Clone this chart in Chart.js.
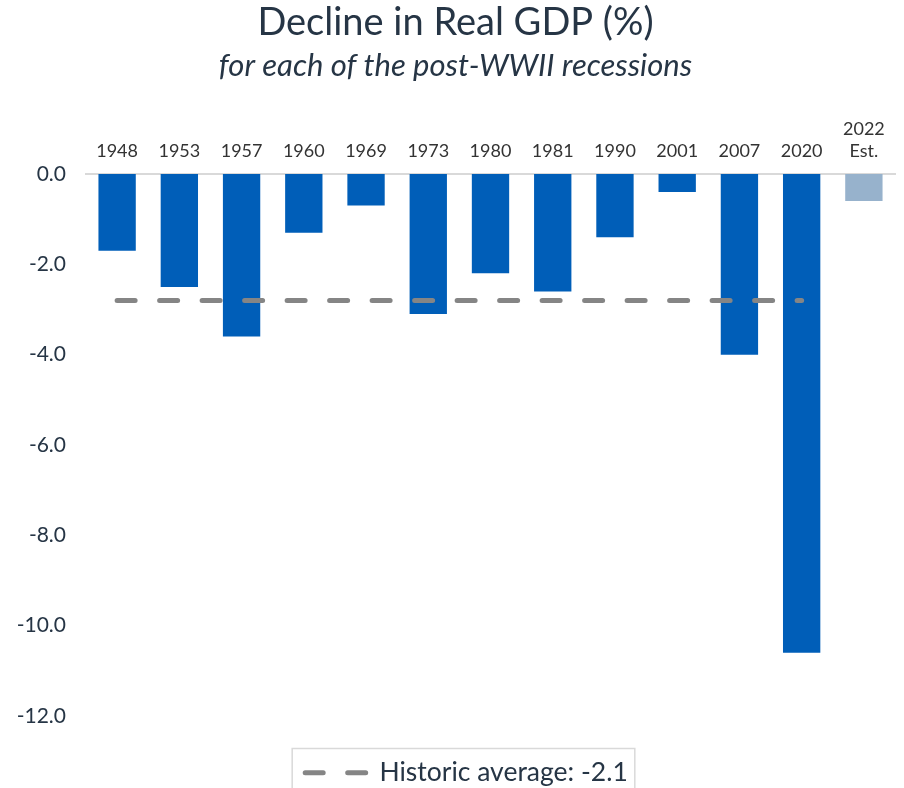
<!DOCTYPE html>
<html>
<head>
<meta charset="utf-8">
<script src="https://cdn.jsdelivr.net/npm/chart.js@4.4.1/dist/chart.umd.min.js"></script>
<style>
  html, body { margin: 0; padding: 0; background: #fff; overflow: hidden; }
  #wrap { position: relative; width: 904px; height: 796px; }
</style>
</head>
<body>
<div id="wrap"><canvas id="gdpChart"></canvas></div>
<script>
// --- Data ---
const recessions = ['1948', '1953', '1957', '1960', '1969', '1973', '1980', '1981', '1990', '2001', '2007', '2020', ['2022', 'Est.']];
const gdpDecline = [-1.7, -2.5, -3.6, -1.3, -0.7, -3.1, -2.2, -2.6, -1.4, -0.4, -4.0, -10.6, -0.6];
const historicAverage = [-2.8, -2.8, -2.8, -2.8, -2.8, -2.8, -2.8, -2.8, -2.8, -2.8, -2.8, -2.8, null];
const averageLabel = 'Historic average: -2.1';
const barColors = ['#005EB8', '#005EB8', '#005EB8', '#005EB8', '#005EB8', '#005EB8', '#005EB8', '#005EB8', '#005EB8', '#005EB8', '#005EB8', '#005EB8', '#97B2CC'];

const textColor = '#263545';
const avgDash = [18, 24.5];

// --- Legend border (and nudge legend a bit to the right) ---
const legendBox = {
  id: 'legendBox',
  afterLayout(chart) {
    const lg = chart.legend;
    if (!lg) return;
    lg.left += 11;
    lg.right += 11;
  },
  afterDraw(chart) {
    const lg = chart.legend;
    if (!lg || !lg.legendHitBoxes.length) return;
    const hb = lg.legendHitBoxes[0];
    const ctx = chart.ctx;
    ctx.save();
    ctx.strokeStyle = '#d9d9d9';
    ctx.lineWidth = 1.5;
    ctx.strokeRect(hb.left - 13, lg.top + 1, hb.width + 20, 80);
    ctx.restore();
  }
};

// keep the dashed look of the average line in the legend sample
function legendLabels(chart) {
  return Chart.defaults.plugins.legend.labels.generateLabels(chart).map(item => {
    const ds = chart.data.datasets[item.datasetIndex];
    item.lineDash = ds.borderDash || [];
    item.lineWidth = ds.borderWidth;
    item.lineCap = ds.borderCapStyle;
    item.strokeStyle = ds.borderColor;
    return item;
  });
}

// --- Chart ---
new Chart(document.getElementById('gdpChart'), {
  data: {
    labels: recessions,
    datasets: [
      {
        type: 'line',
        label: averageLabel,
        data: historicAverage,
        borderColor: '#858585',
        backgroundColor: '#858585',
        borderWidth: 5,
        borderDash: avgDash,
        borderCapStyle: 'round',
        pointRadius: 0,
        order: 0
      },
      {
        type: 'bar',
        label: 'Decline in Real GDP',
        data: gdpDecline,
        backgroundColor: barColors,
        categoryPercentage: 0.6,
        barPercentage: 1,
        order: 1
      }
    ]
  },
  options: {
    responsive: true,
    maintainAspectRatio: false,
    animation: false,
    layout: { padding: { left: 16, right: 9, top: 0, bottom: 0 } },
    plugins: {
      title: {
        display: true,
        text: 'Decline in Real GDP (%)',
        color: textColor,
        font: { family: 'Lato', size: 38, weight: 'normal' },
        padding: { top: 0, bottom: 0 }
      },
      subtitle: {
        display: true,
        text: 'for each of the post-WWII recessions',
        color: textColor,
        font: { family: 'Lato', size: 31, style: 'italic' },
        padding: { top: 2, bottom: 22 }
      },
      legend: {
        position: 'bottom',
        labels: {
          filter: item => item.datasetIndex === 0,
          generateLabels: legendLabels,
          usePointStyle: true,
          pointStyle: 'line',
          pointStyleWidth: 61,
          boxWidth: 61,
          color: textColor,
          font: { family: 'Lato', size: 26.5 },
          padding: 12
        }
      },
      tooltip: { enabled: false }
    },
    scales: {
      x: {
        position: 'top',
        grid: { display: false, drawTicks: false },
        border: { color: '#d9d9d9', width: 2 },
        ticks: {
          color: '#333333',
          font: { family: 'Lato', size: 18 },
          padding: 12,
          maxRotation: 0
        }
      },
      y: {
        min: -12.7,
        max: 0,
        grid: { display: false, drawTicks: false },
        border: { display: false },
        afterFit: scale => { scale.width = 70; },
        ticks: {
          stepSize: 2,
          includeBounds: false,
          color: textColor,
          font: { family: 'Lato', size: 21 },
          padding: 20,
          callback: v => v.toFixed(1)
        }
      }
    }
  },
  plugins: [legendBox]
});
</script>
</body>
</html>
